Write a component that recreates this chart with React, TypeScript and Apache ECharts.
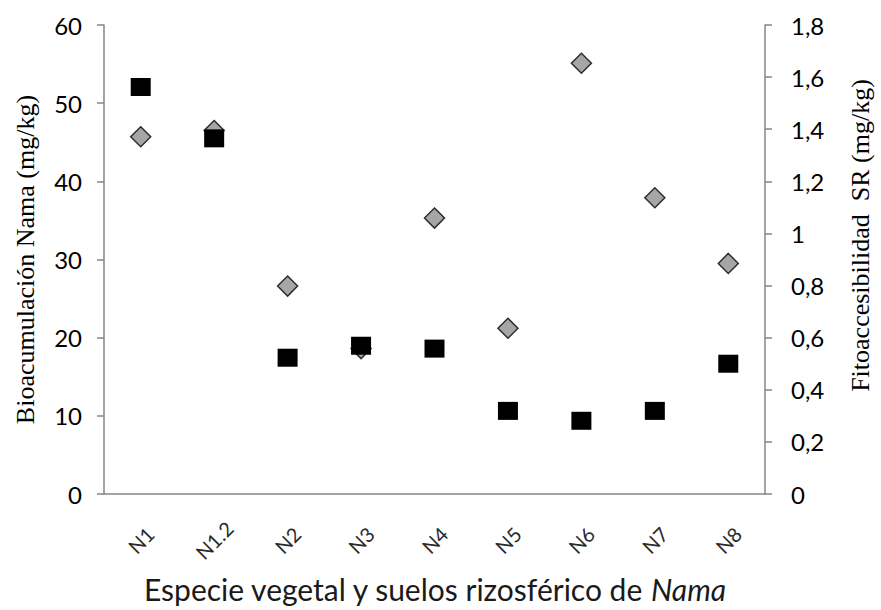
import React, { useEffect, useRef } from "react";
import * as echarts from "echarts";

const categories = ["N1", "N1.2", "N2", "N3", "N4", "N5", "N6", "N7", "N8"];
// Gray diamonds (left axis, mg/kg)
const bioacumulacion = [45.7, 46.5, 26.6, 18.6, 35.3, 21.2, 55.1, 37.9, 29.5];
// Black squares (right axis, mg/kg)
const fitoaccesibilidad = [1.562, 1.365, 0.523, 0.569, 0.558, 0.319, 0.281, 0.319, 0.5];

const leftTicks = { min: 0, max: 60, interval: 10 };
const rightTicks = { min: 0, max: 1.8, interval: 0.2 };

const axisGray = "#868686";

export default function App() {
  const ref = useRef<HTMLDivElement>(null);
  useEffect(() => {
    if (!ref.current) return;
    const chart = echarts.init(ref.current, undefined, { renderer: "svg" });
    chart.setOption({
      animation: false,
      backgroundColor: "#ffffff",
      grid: { left: 104, right: 105, top: 25, bottom: 116, containLabel: false },
      xAxis: {
        type: "category",
        data: categories,
        boundaryGap: true,
        axisLine: { show: true, lineStyle: { color: axisGray, width: 1.5 } },
        axisTick: { show: false },
        axisLabel: {
          rotate: 45,
          align: "center",
          verticalAlign: "middle",
          margin: 46,
          fontFamily: "Lato",
          fontSize: 20,
          color: "#2a2a2a",
          interval: 0,
        },
        name: "Especie vegetal y suelos rizosférico de {i|Nama}",
        nameLocation: "middle",
        nameGap: 80,
        nameTextStyle: {
          fontFamily: "Lato",
          fontSize: 30,
          color: "#1a1a1a",
          rich: {
            i: { fontFamily: "Lato", fontSize: 30, fontStyle: "italic", color: "#1a1a1a" },
          },
        },
        splitLine: { show: false },
      },
      yAxis: [
        {
          type: "value",
          position: "left",
          min: leftTicks.min,
          max: leftTicks.max,
          interval: leftTicks.interval,
          axisLine: { show: true, lineStyle: { color: axisGray, width: 1.5 } },
          axisTick: { show: true, inside: false, length: 7, lineStyle: { color: axisGray, width: 1.5 } },
          axisLabel: { margin: 22, fontFamily: "Lato", fontSize: 24, color: "#000" },
          splitLine: { show: false },
          name: "Bioacumulación Nama (mg/kg)",
          nameLocation: "middle",
          nameRotate: 90,
          nameGap: 66,
          nameTextStyle: { fontFamily: "Liberation Serif", fontSize: 26, color: "#000" },
        },
        {
          type: "value",
          position: "right",
          min: rightTicks.min,
          max: rightTicks.max,
          interval: rightTicks.interval,
          axisLine: { show: true, lineStyle: { color: axisGray, width: 1.5 } },
          axisTick: { show: true, inside: false, length: 7, lineStyle: { color: axisGray, width: 1.5 } },
          axisLabel: {
            margin: 26,
            fontFamily: "Lato",
            fontSize: 24,
            color: "#000",
            formatter: (v: number) => String(Math.round(v * 10) / 10).replace(".", ","),
          },
          splitLine: { show: false },
          name: "Fitoaccesibilidad  SR (mg/kg)",
          nameLocation: "middle",
          nameRotate: 90,
          nameGap: 82,
          nameTextStyle: {
            fontFamily: "Liberation Serif",
            fontSize: 26,
            color: "#000",
            padding: [0, 0, 0, 48],
          },
        },
      ],
      series: [
        {
          name: "Bioacumulación",
          type: "scatter",
          yAxisIndex: 0,
          data: bioacumulacion,
          symbol: "diamond",
          symbolSize: [20, 20],
          itemStyle: { color: "#a6a6a6", borderColor: "#2e2e2e", borderWidth: 1.5, opacity: 1 },
          z: 2,
        },
        {
          name: "Fitoaccesibilidad",
          type: "scatter",
          yAxisIndex: 1,
          data: fitoaccesibilidad,
          symbol: "rect",
          symbolSize: [20, 18],
          itemStyle: { color: "#000000", opacity: 1 },
          z: 3,
        },
      ],
    });
    return () => chart.dispose();
  }, []);
  return <div ref={ref} style={{ width: 881, height: 610, position: "absolute", left: 0, top: 0 }} />;
}
